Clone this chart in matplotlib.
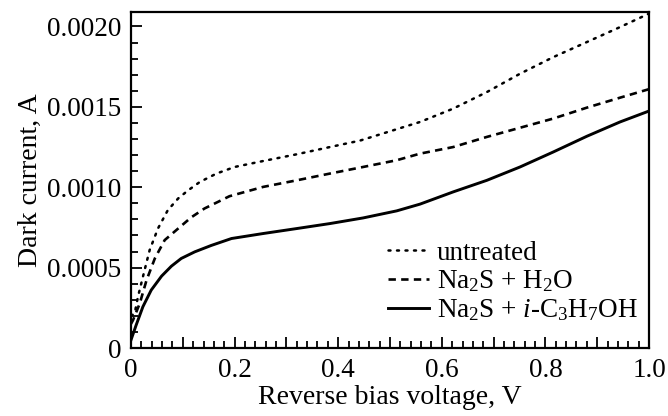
import matplotlib
matplotlib.use("Agg")
import matplotlib.pyplot as plt
from matplotlib.ticker import MultipleLocator, FixedLocator

plt.rcParams['font.family'] = ['Liberation Serif', 'DejaVu Serif']
plt.rcParams['mathtext.fontset'] = 'custom'
plt.rcParams['mathtext.rm'] = 'Liberation Serif'
plt.rcParams['mathtext.it'] = 'Liberation Serif:italic'

# Data
v_untreated = [0.0, 0.007, 0.0135, 0.023, 0.036, 0.052, 0.071, 0.091, 0.11, 0.133, 0.165, 0.2,
               0.255, 0.32, 0.384, 0.442, 0.558, 0.622, 0.687, 0.751, 0.815, 0.88, 0.944, 1.0]
i_untreated = [0.0002, 0.000215, 0.000319, 0.000443, 0.000609, 0.000743, 0.000857, 0.00093, 0.00098,
               0.001033, 0.001085, 0.001126, 0.001163, 0.001205, 0.00125, 0.00129, 0.001406,
               0.001489, 0.001592, 0.001706, 0.001809, 0.001903, 0.001996, 0.00208]

v_h2o = [0.0, 0.004, 0.017, 0.030, 0.046, 0.065, 0.091, 0.116, 0.142, 0.168, 0.19, 0.255, 0.32,
         0.384, 0.448, 0.513, 0.558, 0.622, 0.687, 0.751, 0.815, 0.88, 0.944, 1.0]
i_h2o = [0.00015, 0.000174, 0.000278, 0.000422, 0.000557, 0.000671, 0.000743, 0.000812, 0.000868,
         0.000909, 0.000944, 0.001002, 0.001043, 0.001085, 0.001126, 0.001168, 0.001209, 0.00125,
         0.001313, 0.00137, 0.001427, 0.001495, 0.001557, 0.00161]

v_ipa = [0.0, 0.010, 0.023, 0.039, 0.059, 0.078, 0.097, 0.123, 0.155, 0.194, 0.255, 0.32, 0.384,
         0.448, 0.513, 0.558, 0.622, 0.687, 0.751, 0.815, 0.88, 0.944, 1.0]
i_ipa = [0.00005, 0.000143, 0.000257, 0.00036, 0.000447, 0.000509, 0.000557, 0.000598, 0.000638,
         0.000681, 0.000712, 0.000743, 0.000774, 0.000809, 0.000853, 0.000895, 0.000971, 0.001043,
         0.001126, 0.001219, 0.001317, 0.001406, 0.001474]

labels = ['untreated', 'Na$_2$S + H$_2$O', 'Na$_2$S + $i$-C$_3$H$_7$OH']
xtick_vals = [0, 0.1, 0.2, 0.3, 0.4, 0.5, 0.6, 0.7, 0.8, 0.9, 1.0]
xtick_labels = ['0', '', '0.2', '', '0.4', '', '0.6', '', '0.8', '', '1.0']
ytick_vals = [0, 0.0005, 0.0010, 0.0015, 0.0020]
ytick_labels = ['0', '0.0005', '0.0010', '0.0015', '0.0020']

fig = plt.figure(figsize=(6.68, 4.16), dpi=100)
ax = fig.add_axes([131/668, 1-348/416, (649-131)/668, (348-12)/416])

ax.plot(v_untreated, i_untreated, color='black', lw=1.8, linestyle=(0, (0.8, 2.6)),
        dash_capstyle='round', label=labels[0])
ax.plot(v_h2o, i_h2o, color='black', lw=1.9, linestyle=(0, (2.8, 2.0)), label=labels[1])
ax.plot(v_ipa, i_ipa, color='black', lw=2.1, linestyle='-', label=labels[2])

ax.set_xlim(0, 1.0)
ax.set_ylim(0, 0.00209)

ax.xaxis.set_major_locator(FixedLocator(xtick_vals))
ax.set_xticklabels(xtick_labels)
ax.xaxis.set_minor_locator(MultipleLocator(0.02))
ax.set_yticks(ytick_vals)
ax.set_yticklabels(ytick_labels)
ax.yaxis.set_minor_locator(MultipleLocator(0.0001))

ax.tick_params(which='both', direction='in', top=False, right=False, width=1.3, labelsize=19.5)
ax.tick_params(which='major', length=8, pad=7)
ax.tick_params(which='minor', length=5)
for s in ax.spines.values():
    s.set_linewidth(1.6)

ax.set_xlabel('Reverse bias voltage, V', fontsize=20, labelpad=2)
ax.set_ylabel('Dark current, A', fontsize=20, labelpad=3)

leg = ax.legend(loc='lower right', bbox_to_anchor=(1.0, 0.042), frameon=False, fontsize=19.5,
                handlelength=1.5, handletextpad=0.3, labelspacing=0.1, borderaxespad=0.2,
                borderpad=0.2)

fig.savefig('out.png', dpi=100)
